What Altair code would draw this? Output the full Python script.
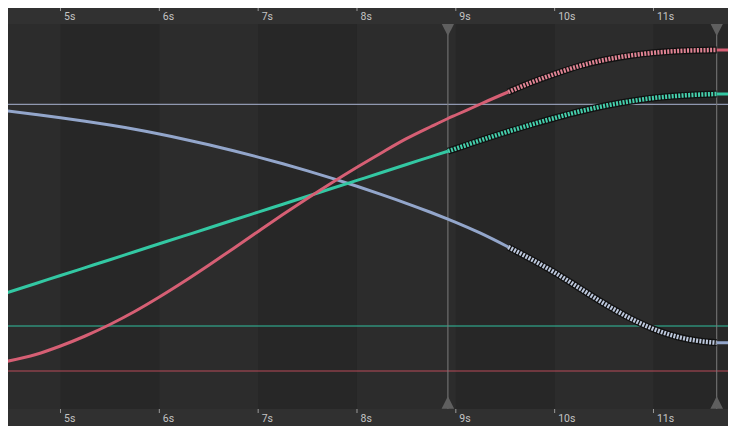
import altair as alt
import pandas as pd

# ---- data ----
TIMES = [4.45, 4.75, 5.0, 5.25, 5.5, 5.75, 6.0, 6.25, 6.5, 6.75, 7.0, 7.25, 7.5, 7.75,
         8.0, 8.25, 8.5, 8.75, 8.92, 9.0, 9.25, 9.53, 9.75, 10.0, 10.25, 10.5, 10.75,
         11.0, 11.25, 11.5, 11.64, 11.84]
RED = [0.095, 0.165, 0.25, 0.35, 0.465, 0.595, 0.74, 0.895, 1.058, 1.226, 1.396, 1.564,
       1.727, 1.885, 2.037, 2.183, 2.323, 2.445, 2.525, 2.56, 2.67, 2.79, 2.88, 2.97,
       3.05, 3.11, 3.153, 3.182, 3.20, 3.208, 3.21, 3.21]
TEAL = [0.78, 0.875, 0.955, 1.034, 1.113, 1.193, 1.272, 1.351, 1.43, 1.51, 1.589, 1.668,
        1.747, 1.827, 1.906, 1.985, 2.065, 2.144, 2.198, 2.224, 2.307, 2.395, 2.46, 2.53,
        2.595, 2.65, 2.695, 2.73, 2.752, 2.765, 2.77, 2.77]
BLUE = [2.603, 2.565, 2.532, 2.497, 2.459, 2.417, 2.370, 2.318, 2.262, 2.202, 2.139, 2.072,
        2.001, 1.926, 1.847, 1.764, 1.677, 1.585, 1.519, 1.487, 1.378, 1.24, 1.125, 0.985,
        0.83, 0.675, 0.535, 0.42, 0.34, 0.295, 0.283, 0.283]

CURVES = ["blue", "teal", "red"]
CURVE_VALUES = {"red": RED, "teal": TEAL, "blue": BLUE}
CURVE_COLORS = {"red": "#d65f74", "teal": "#33c8a3", "blue": "#93a6cb"}
MARKER_FILLS = {"red": "#e08494", "teal": "#45cfac", "blue": "#bcc7dc"}
MARKER_START = {"red": 9.53, "teal": 8.92, "blue": 9.53}
MARKER_END = 11.64

REF_LEVELS = [2.667, 0.45, 0.0]
REF_COLORS = ["#aab5d3", "#31c09f", "#b84a59"]

KEYFRAMES = [8.92, 11.64]
TICK_SECONDS = [5, 6, 7, 8, 9, 10, 11]
TICK_LABELS = ["5s", "6s", "7s", "8s", "9s", "10s", "11s"]
DARK_BANDS = [5, 7, 9, 11]

W, H = 720, 418
TOP, BOTTOM = 16, 401

xs = alt.Scale(domain=[4.4688, 11.7541], nice=False, zero=False)
ys = alt.Scale(domain=[-0.55, 3.63], nice=False, zero=False)
X = lambda f: alt.X(f, scale=xs, axis=None)
Y = lambda f: alt.Y(f, scale=ys, axis=None)

bands = alt.Chart(pd.DataFrame({"s": DARK_BANDS, "e": [b + 1 for b in DARK_BANDS]})).mark_rect(
    color="#272727", clip=True).encode(x=X("s:Q"), x2="e:Q", y=alt.value(TOP), y2=alt.value(BOTTOM))

one = pd.DataFrame({"k": [0]})
header = alt.Chart(one).mark_rect(color="#313131").encode(
    x=alt.value(0), x2=alt.value(W), y=alt.value(0), y2=alt.value(TOP))
footer = alt.Chart(one).mark_rect(color="#303030").encode(
    x=alt.value(0), x2=alt.value(W), y=alt.value(BOTTOM), y2=alt.value(H))

refs = alt.Chart(pd.DataFrame({"v": REF_LEVELS, "c": REF_COLORS})).mark_rule(strokeWidth=1).encode(
    y=Y("v:Q"), x=alt.value(0), x2=alt.value(W), color=alt.Color("c:N", scale=None))

kf = pd.DataFrame({"t": KEYFRAMES})
vlines = alt.Chart(kf).mark_rule(color="#7c7c7c", strokeWidth=1).encode(
    x=X("t:Q"), y=alt.value(TOP), y2=alt.value(BOTTOM))
tri_top = alt.Chart(kf).mark_point(shape="M-1,-1L1,-1L0,1Z", size=150, filled=True,
                                   color="#5f5f5f", opacity=1).encode(x=X("t:Q"), y=alt.value(22))
tri_bot = alt.Chart(kf).mark_point(shape="M-1,1L1,1L0,-1Z", size=160, filled=True,
                                   color="#5f5f5f", opacity=1).encode(x=X("t:Q"), y=alt.value(394.5))

layers = [bands, header, footer, refs, vlines]

for name in CURVES:
    df = pd.DataFrame({"t": TIMES, "v": CURVE_VALUES[name]})
    layers.append(alt.Chart(df).mark_line(strokeWidth=3, interpolate="monotone", clip=True,
                                          color=CURVE_COLORS[name]).encode(x=X("t:Q"), y=Y("v:Q")))
for name in CURVES:
    df = pd.DataFrame({"t": TIMES, "v": CURVE_VALUES[name]})
    seg = df[(df.t >= MARKER_START[name]) & (df.t <= MARKER_END)]
    layers.append(alt.Chart(seg).mark_line(strokeWidth=7, interpolate="monotone", clip=True,
                                           color="#111111").encode(x=X("t:Q"), y=Y("v:Q")))
    layers.append(alt.Chart(seg).mark_line(strokeWidth=4.5, interpolate="monotone", clip=True,
                                           strokeDash=[2.0, 1.3], color=MARKER_FILLS[name]).encode(
        x=X("t:Q"), y=Y("v:Q")))

ticks_df = pd.DataFrame({"t": TICK_SECONDS, "label": TICK_LABELS})
top_ticks = alt.Chart(ticks_df).mark_rule(color="#9a9a9a", strokeWidth=1).encode(
    x=X("t:Q"), y=alt.value(0), y2=alt.value(3))
bot_ticks = alt.Chart(ticks_df).mark_rule(color="#9a9a9a", strokeWidth=1).encode(
    x=X("t:Q"), y=alt.value(BOTTOM), y2=alt.value(BOTTOM + 4))
txt = dict(align="left", baseline="alphabetic", dx=3.5, font="Roboto", fontSize=10.5, color="#c4c4c4")
top_lbl = alt.Chart(ticks_df).mark_text(**txt).encode(x=X("t:Q"), y=alt.value(11.5), text="label:N")
bot_lbl = alt.Chart(ticks_df).mark_text(**txt).encode(x=X("t:Q"), y=alt.value(414), text="label:N")

layers += [tri_top, tri_bot, top_ticks, bot_ticks, top_lbl, bot_lbl]

chart = alt.layer(*layers).properties(
    width=W, height=H, autosize=alt.AutoSizeParams(type="none"), padding=0,
    background="#2c2c2c",
).configure_view(strokeWidth=0, fill="#2c2c2c")

chart.save("out.html", embed_options={"renderer": "svg", "actions": False})
